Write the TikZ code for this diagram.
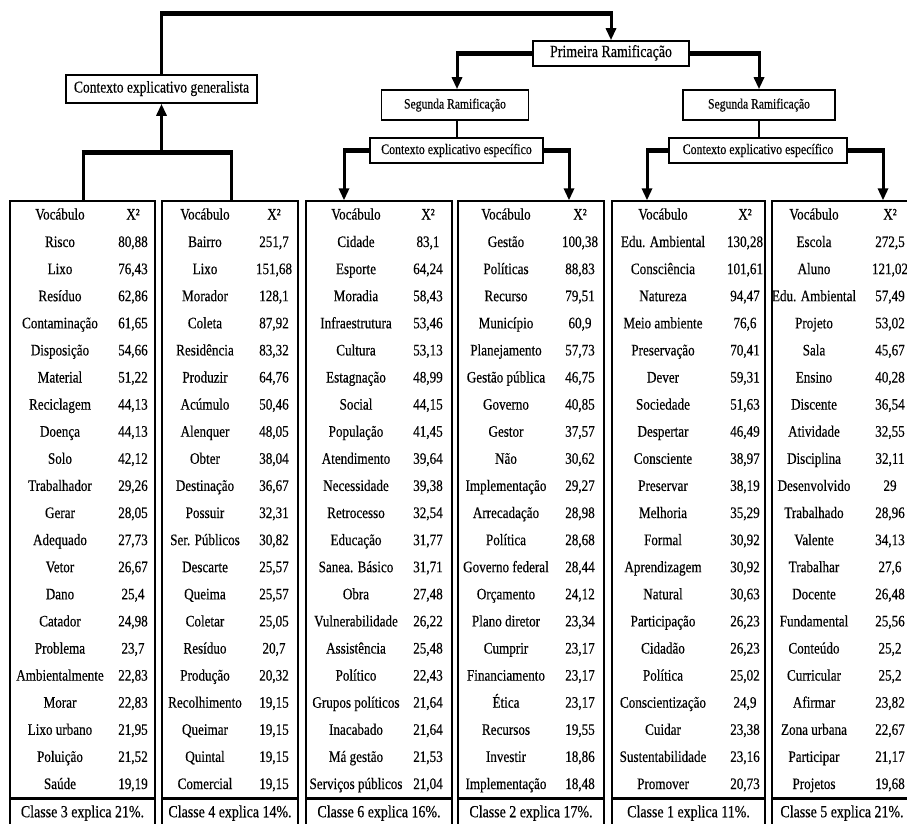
\documentclass[tikz,border=0pt]{standalone}
\usepackage{fontspec}
\setmainfont{Liberation Serif}[FakeStretch=0.82,FakeBold=0.35]
\usetikzlibrary{arrows.meta}
\newcounter{rowi}
\newcommand\tcol[3]{\def\tname{#1}\def\vx{#2}\def\nx{#3}\setcounter{rowi}{0}%
  \node[cell] (#1hv) at (#2,215.5) {Vocábulo};%
  \node[cell] (#1hx) at (#3,215.5) {X²};}
\newcommand\trow[2]{\stepcounter{rowi}%
  \pgfmathsetmacro\ry{243+27.1*(\arabic{rowi}-1)}%
  \node[cell] (\tname w\arabic{rowi}) at (\vx,\ry) {#1};%
  \node[cell] (\tname n\arabic{rowi}) at (\nx,\ry) {#2};}
\begin{document}
\begin{tikzpicture}[x=1pt,y=-1pt,
  cell/.style={inner sep=0pt, text height=11pt, text depth=3pt, font=\fontsize{16}{19}\selectfont},
  tbody/.style={draw, line width=1.3pt, inner sep=0pt, minimum height=597pt},
  tfoot/.style={draw, line width=1.3pt, inner sep=0pt, minimum height=30pt, text height=11.5pt, text depth=3pt, font=\fontsize{17}{20}\selectfont},
  hbox/.style={draw, line width=1.6pt, fill=white, inner sep=0pt, text height=10pt, text depth=3pt},
  vl/.style={line width=3pt},
  hl/.style={line width=5pt},
  ml/.style={line width=2.5pt},
  arr/.style={-{Triangle[width=10pt,length=12pt]}}]
\fill[white] (0,0) rectangle (907,823);
\useasboundingbox (0,0) rectangle (907,823);

% header boxes
\node[hbox, minimum width=191pt, minimum height=28pt, font=\fontsize{16.5}{19}\selectfont] (gen) at (161.5,89) {Contexto explicativo generalista};
\node[hbox, minimum width=156pt, minimum height=25pt, font=\fontsize{17}{19}\selectfont] (prim) at (611,53.5) {Primeira Ramificação};
\node[hbox, minimum width=147pt, minimum height=30pt, font=\fontsize{14.2}{16}\selectfont] (seg1) at (455,105) {Segunda Ramificação};
\node[hbox, minimum width=152pt, minimum height=30pt, font=\fontsize{14.2}{16}\selectfont] (seg2) at (759,105) {Segunda Ramificação};
\node[hbox, minimum width=173pt, minimum height=25pt, font=\fontsize{14.5}{16}\selectfont] (ctx1) at (456.5,150.5) {Contexto explicativo específico};
\node[hbox, minimum width=178pt, minimum height=25pt, font=\fontsize{14.5}{16}\selectfont] (ctx2) at (758,150.5) {Contexto explicativo específico};

% tables
\node[tbody, minimum width=145pt] (t1) at (82.5,499.5) {};
\node[tbody, minimum width=136pt] (t2) at (230,499.5) {};
\node[tbody, minimum width=146pt] (t3) at (379,499.5) {};
\node[tbody, minimum width=146pt] (t4) at (531,499.5) {};
\node[tbody, minimum width=153pt] (t5) at (688.5,499.5) {};
\node[tbody, minimum width=140pt] (t6) at (842,499.5) {};
\node[tfoot, minimum width=145pt] (f1) at (82.5,813) {Classe 3 explica 21\%.};
\node[tfoot, minimum width=136pt] (f2) at (230,813) {Classe 4 explica 14\%.};
\node[tfoot, minimum width=146pt] (f3) at (379,813) {Classe 6 explica 16\%.};
\node[tfoot, minimum width=146pt] (f4) at (531,813) {Classe 2 explica 17\%.};
\node[tfoot, minimum width=153pt] (f5) at (688.5,813) {Classe 1 explica 11\%.};
\node[tfoot, minimum width=140pt] (f6) at (842,813) {Classe 5 explica 21\%.};
\foreach \t in {t1,t2,t3,t4,t5,t6}{\draw[line width=3pt] (\t.south west) -- (\t.south east);}

% connectors
\coordinate (a1) at (161.5,13);
\coordinate (a2) at (611,13);
\draw[hl] ([xshift=-1.5pt]a1) -- ([xshift=1.5pt]a2);
\draw[vl] (gen.north) -- (a1);
\draw[vl,arr] (a2) -- (prim.north);

\coordinate (b1) at (457,53.5);
\coordinate (b2) at (759,53.5);
\draw[hl] (prim.west) -- ([xshift=-1.5pt]b1);
\draw[hl] (prim.east) -- ([xshift=1.5pt]b2);
\draw[vl,arr] (b1) -- (b1 |- seg1.north);
\draw[vl,arr] (b2) -- (b2 |- seg2.north);
\draw[ml] (b1 |- seg1.south) -- (b1 |- ctx1.north);
\draw[ml] (b2 |- seg2.south) -- (b2 |- ctx2.north);

\coordinate (c3) at (344,150.5);
\coordinate (c4) at (569,150.5);
\coordinate (c5) at (647,150.5);
\coordinate (c6) at (883,150.5);
\draw[hl] (ctx1.west) -- ([xshift=-1.5pt]c3);
\draw[hl] (ctx1.east) -- ([xshift=1.5pt]c4);
\draw[hl] (ctx2.west) -- ([xshift=-1.5pt]c5);
\draw[hl] (ctx2.east) -- ([xshift=1.5pt]c6);
\draw[vl,arr] (c3) -- (c3 |- t3.north);
\draw[vl,arr] (c4) -- (c4 |- t4.north);
\draw[vl,arr] (c5) -- (c5 |- t5.north);
\draw[vl,arr] (c6) -- (c6 |- t6.north);

\coordinate (d1) at (83,152);
\coordinate (d2) at (231,152);
\coordinate (d0) at (161.5,152);
\draw[hl] ([xshift=-1.5pt]d1) -- ([xshift=1.5pt]d2);
\draw[vl] (d1) -- (d1 |- t1.north);
\draw[vl] (d2) -- (d2 |- t2.north);
\draw[vl,arr] (d0) -- (gen.south);

% table 1
\tcol{A}{60}{133}
\trow{Risco}{80,88}\trow{Lixo}{76,43}\trow{Resíduo}{62,86}\trow{Contaminação}{61,65}
\trow{Disposição}{54,66}\trow{Material}{51,22}\trow{Reciclagem}{44,13}\trow{Doença}{44,13}
\trow{Solo}{42,12}\trow{Trabalhador}{29,26}\trow{Gerar}{28,05}\trow{Adequado}{27,73}
\trow{Vetor}{26,67}\trow{Dano}{25,4}\trow{Catador}{24,98}\trow{Problema}{23,7}
\trow{Ambientalmente}{22,83}\trow{Morar}{22,83}\trow{Lixo urbano}{21,95}\trow{Poluição}{21,52}
\trow{Saúde}{19,19}
% table 2
\tcol{B}{205}{274}
\trow{Bairro}{251,7}\trow{Lixo}{151,68}\trow{Morador}{128,1}\trow{Coleta}{87,92}
\trow{Residência}{83,32}\trow{Produzir}{64,76}\trow{Acúmulo}{50,46}\trow{Alenquer}{48,05}
\trow{Obter}{38,04}\trow{Destinação}{36,67}\trow{Possuir}{32,31}\trow{Ser. Públicos}{30,82}
\trow{Descarte}{25,57}\trow{Queima}{25,57}\trow{Coletar}{25,05}\trow{Resíduo}{20,7}
\trow{Produção}{20,32}\trow{Recolhimento}{19,15}\trow{Queimar}{19,15}\trow{Quintal}{19,15}
\trow{Comercial}{19,15}
% table 3
\tcol{C}{356}{428}
\trow{Cidade}{83,1}\trow{Esporte}{64,24}\trow{Moradia}{58,43}\trow{Infraestrutura}{53,46}
\trow{Cultura}{53,13}\trow{Estagnação}{48,99}\trow{Social}{44,15}\trow{População}{41,45}
\trow{Atendimento}{39,64}\trow{Necessidade}{39,38}\trow{Retrocesso}{32,54}\trow{Educação}{31,77}
\trow{Sanea. Básico}{31,71}\trow{Obra}{27,48}\trow{Vulnerabilidade}{26,22}\trow{Assistência}{25,48}
\trow{Político}{22,43}\trow{Grupos políticos}{21,64}\trow{Inacabado}{21,64}\trow{Má gestão}{21,53}
\trow{Serviços públicos}{21,04}
% table 4
\tcol{D}{506}{580}
\trow{Gestão}{100,38}\trow{Políticas}{88,83}\trow{Recurso}{79,51}\trow{Município}{60,9}
\trow{Planejamento}{57,73}\trow{Gestão pública}{46,75}\trow{Governo}{40,85}\trow{Gestor}{37,57}
\trow{Não}{30,62}\trow{Implementação}{29,27}\trow{Arrecadação}{28,98}\trow{Política}{28,68}
\trow{Governo federal}{28,44}\trow{Orçamento}{24,12}\trow{Plano diretor}{23,34}\trow{Cumprir}{23,17}
\trow{Financiamento}{23,17}\trow{Ética}{23,17}\trow{Recursos}{19,55}\trow{Investir}{18,86}
\trow{Implementação}{18,48}
% table 5
\tcol{E}{663}{745}
\trow{Edu. Ambiental}{130,28}\trow{Consciência}{101,61}\trow{Natureza}{94,47}\trow{Meio ambiente}{76,6}
\trow{Preservação}{70,41}\trow{Dever}{59,31}\trow{Sociedade}{51,63}\trow{Despertar}{46,49}
\trow{Consciente}{38,97}\trow{Preservar}{38,19}\trow{Melhoria}{35,29}\trow{Formal}{30,92}
\trow{Aprendizagem}{30,92}\trow{Natural}{30,63}\trow{Participação}{26,23}\trow{Cidadão}{26,23}
\trow{Política}{25,02}\trow{Conscientização}{24,9}\trow{Cuidar}{23,38}\trow{Sustentabilidade}{23,16}
\trow{Promover}{20,73}
% table 6
\tcol{F}{814}{890}
\trow{Escola}{272,5}\trow{Aluno}{121,02}\trow{Edu. Ambiental}{57,49}\trow{Projeto}{53,02}
\trow{Sala}{45,67}\trow{Ensino}{40,28}\trow{Discente}{36,54}\trow{Atividade}{32,55}
\trow{Disciplina}{32,11}\trow{Desenvolvido}{29}\trow{Trabalhado}{28,96}\trow{Valente}{34,13}
\trow{Trabalhar}{27,6}\trow{Docente}{26,48}\trow{Fundamental}{25,56}\trow{Conteúdo}{25,2}
\trow{Curricular}{25,2}\trow{Afirmar}{23,82}\trow{Zona urbana}{22,67}\trow{Participar}{21,17}
\trow{Projetos}{19,68}
\end{tikzpicture}
\end{document}
